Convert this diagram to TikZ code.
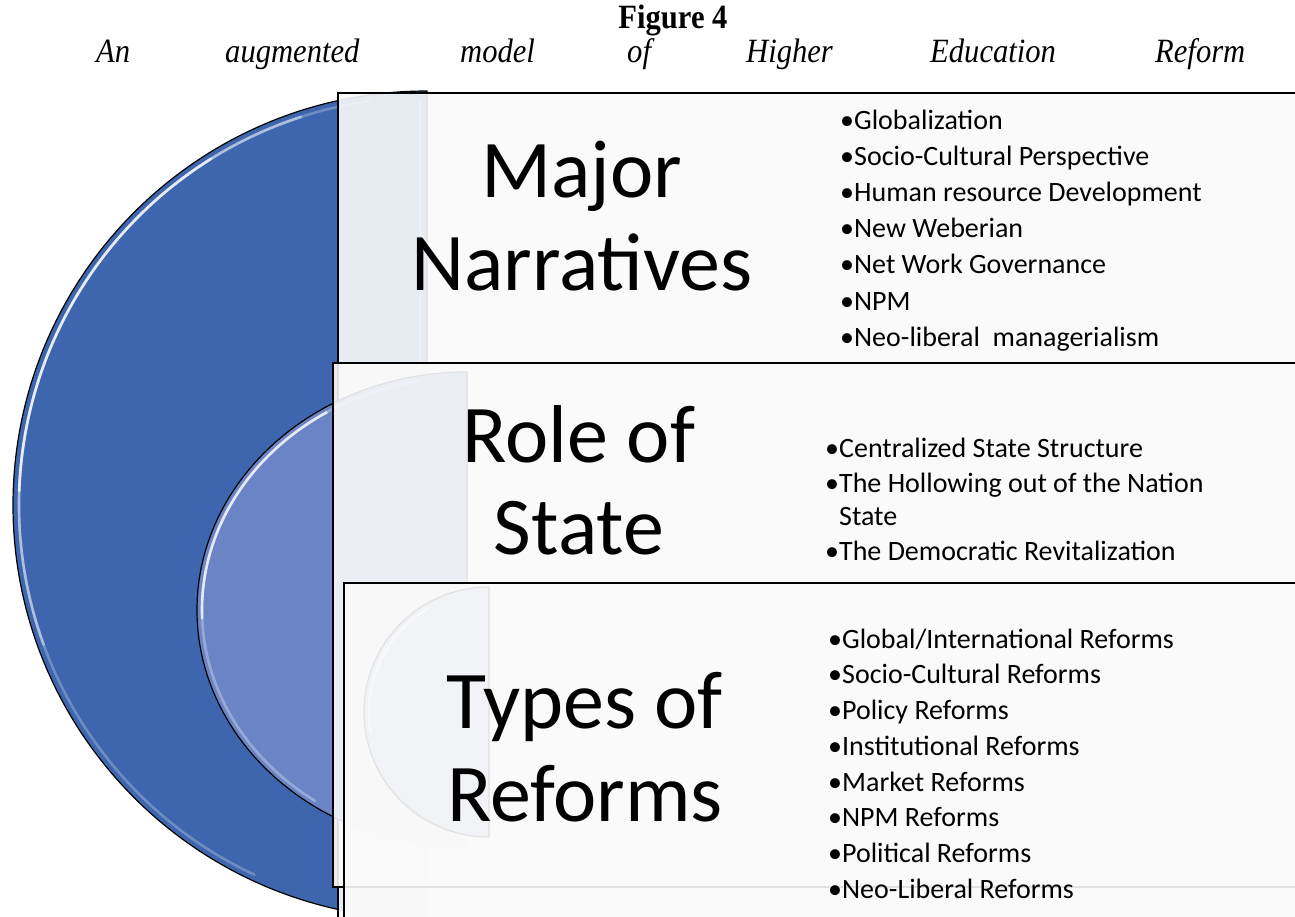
\documentclass[tikz,border=0pt]{standalone}
\usepackage{fontspec}
\setmainfont{Liberation Serif}
\newfontfamily\headfont[FakeStretch=0.9]{Liberation Serif}
\newfontfamily\bodyfont{Carlito}
\begin{document}
\begin{tikzpicture}[x=1pt,y=-1pt]
\definecolor{outerblue}{HTML}{3D66AE}
\definecolor{midblue}{HTML}{6A84C5}
\definecolor{innerblue}{HTML}{A3B4DE}
\definecolor{panel}{HTML}{FAFAFA}
\tikzset{
  halfdisc/.style={draw=black, line width=1.2pt},
  panelbox/.style={draw=black, line width=1.4pt, fill=panel, fill opacity=0.9},
  gloss/.style={draw=white, line width=2.6pt, line cap=round},
  headline/.style={inner sep=0pt, anchor=base, font=\headfont\fontsize{34}{40}\selectfont\bfseries},
  headword/.style={inner sep=0pt, anchor=base west, font=\headfont\fontsize{34}{40}\selectfont\itshape},
  biglabel/.style={inner sep=0pt, anchor=base, font=\bodyfont\fontsize{82}{98}\selectfont},
  item/.style={inner sep=0pt, anchor=base west, font=\bodyfont\fontsize{28}{34}\selectfont}
}
\useasboundingbox (0,0) rectangle (1295,916);
\clip (0,0) rectangle (1295,916);

% heading
\node[headline] (fig) at (673,28) {Figure 4};
\node[headword] (w1) at (96,62) {An};
\node[headword] (w2) at (225,62) {augmented};
\node[headword] (w3) at (460,62) {model};
\node[headword] (w4) at (627,62) {of};
\node[headword] (w5) at (746,62) {Higher};
\node[headword] (w6) at (930,62) {Education};
\node[headword] (w7) at (1155,62) {Reform};

% outer half disc
\path[halfdisc, fill=outerblue] (427,91) arc[start angle=90, end angle=270, radius=414pt] -- cycle;
\draw[gloss, opacity=0.25] (427,505) ++(98:408pt) arc[start angle=98, end angle=245, radius=408pt];
\draw[gloss, opacity=0.45] (427,505) ++(108:408pt) arc[start angle=108, end angle=200, radius=408pt];
\draw[gloss, opacity=0.7] (427,505) ++(122:408pt) arc[start angle=122, end angle=178, radius=408pt];
\draw[gloss, opacity=0.3] (420,100) -- (420,910);

% first panel
\draw[panelbox] (338,93) rectangle (1330,940);
\node[biglabel] (mn1) at (582,197) {Major};
\node[biglabel] (mn2) at (582,290) {Narratives};
\foreach \t [count=\i from 0] in {Globalization, Socio-Cultural Perspective, Human resource Development, New Weberian, Net Work Governance, NPM, Neo-liberal\ \ managerialism}
  \node[item] (n\i) at (840,129+36.2*\i) {•\t};

% middle half ellipse
\path[halfdisc, fill=midblue] (467,372) arc[start angle=90, end angle=270, x radius=270pt, y radius=238pt] -- cycle;
\draw[gloss, opacity=0.3] (467,610) ++(100:265pt and 233pt) arc[start angle=100, end angle=235, x radius=265pt, y radius=233pt];
\draw[gloss, opacity=0.75] (467,610) ++(122:265pt and 233pt) arc[start angle=122, end angle=182, x radius=265pt, y radius=233pt];

% second panel
\draw[panelbox] (333,363) rectangle (1330,887);
\node[biglabel] (rs1) at (579,462) {Role of};
\node[biglabel] (rs2) at (579,554) {State};
\node[item] (s0) at (825,457) {•Centralized State Structure};
\node[item] (s1) at (825,492) {•The Hollowing out of the Nation};
\node[item] (s1b) at (825,525) {\phantom{•}State};
\node[item] (s2) at (825,560) {•The Democratic Revitalization};

% inner half disc
\path[halfdisc, fill=innerblue] (489,587) arc[start angle=90, end angle=270, radius=125pt] -- cycle;
\draw[gloss, opacity=0.7] (489,712) ++(120:120pt) arc[start angle=120, end angle=190, radius=120pt];

% third panel
\draw[panelbox] (344,583) rectangle (1330,940);
\node[biglabel] (tr1) at (585,728) {Types of};
\node[biglabel] (tr2) at (585,821) {Reforms};
\foreach \t [count=\i from 0] in {Global/International Reforms, Socio-Cultural Reforms, Policy Reforms, Institutional Reforms, Market Reforms, NPM Reforms, Political Reforms, Neo-Liberal Reforms}
  \node[item] (r\i) at (828,648+35.75*\i) {•\t};
\end{tikzpicture}
\end{document}
